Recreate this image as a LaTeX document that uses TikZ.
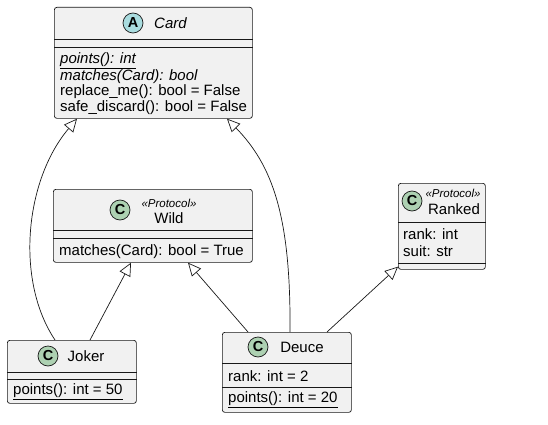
\documentclass[tikz,border=0pt]{standalone}
\usepackage{fontspec}
\setmainfont{Liberation Sans}
\usepackage{xcolor}
\definecolor{boxc}{HTML}{F1F1F1}
\definecolor{linec}{HTML}{181818}
\definecolor{classc}{HTML}{ADD1B2}
\definecolor{abstc}{HTML}{A9DCDF}
\usetikzlibrary{arrows.meta,positioning,calc}
\tikzset{
  >={Triangle[open,length=13pt,width=12pt]},
  classbox/.style={draw=linec,fill=boxc,line width=0.7pt,rounded corners=2.5pt,anchor=north west,inner sep=0pt},
  sep/.style={draw=linec,line width=0.7pt},
  badge/.style={circle,draw=linec,line width=0.7pt,minimum size=20pt,inner sep=0pt,font=\fontsize{14.5}{14.5}\selectfont\bfseries},
  cbadge/.style={badge,fill=classc},
  abadge/.style={badge,fill=abstc},
  cname/.style={font=\fontsize{15}{16}\selectfont,inner sep=0pt},
  stereo/.style={font=\fontsize{11.5}{12}\selectfont\itshape,inner sep=0pt},
  member/.style={font=\fontsize{15}{16}\selectfont,anchor=west,inner sep=0pt},
  ext/.style={->,draw=linec,line width=0.7pt},
}

\begin{document}
\begin{tikzpicture}[x=1pt,y=-1pt]
  \useasboundingbox (0,0) rectangle (548,425);
  % class boxes
  \node[classbox,minimum width=198pt,minimum height=111pt] (card) at (54,7) {};
  \node[classbox,minimum width=199pt,minimum height=73pt] (wild) at (53,189) {};
  \node[classbox,minimum width=87pt,minimum height=86pt] (ranked) at (398,183) {};
  \node[classbox,minimum width=129pt,minimum height=63pt] (joker) at (7,340) {};
  \node[classbox,minimum width=129pt,minimum height=80pt] (deuce) at (222,332) {};
  \foreach \b/\s in {card/32,card/40,wild/41,wild/49,ranked/39,ranked/80,joker/32,joker/39,deuce/31,deuce/55}
    \draw[sep] ([yshift=-\s pt]\b.north west) -- ([yshift=-\s pt]\b.north east);
  % headers
  \node[abadge] (cardb) at (133,23) {A};
  \node[cname,font=\fontsize{15}{16}\selectfont\itshape] (cardn) at (170.5,23) {Card};
  \node[cbadge] (wildb) at (120,210) {C};
  \node[stereo] (wilds) at (169,203) {«Protocol»};
  \node[cname] (wildn) at (169,218) {Wild};
  \node[cbadge] (rankedb) at (412,201) {C};
  \node[stereo] (rankeds) at (453,193) {«Protocol»};
  \node[cname] (rankedn) at (454,209) {Ranked};
  \node[cbadge] (jokerb) at (48,356) {C};
  \node[cname] (jokern) at (86,356) {Joker};
  \node[cbadge] (deuceb) at (258,347) {C};
  \node[cname] (deucen) at (302,347) {Deuce};
  % members
  \node[member] (cardm1) at (60,61) {\underline{\textit{points(): int}}};
  \node[member] (cardm2) at (60,77) {\textit{matches(Card): bool}};
  \node[member] (cardm3) at (60,92) {replace\_me(): bool = False};
  \node[member] (cardm4) at (60,108) {safe\_discard(): bool = False};
  \node[member] (wildm1) at (59,252) {matches(Card): bool = True};
  \node[member] (rankeda1) at (403,234) {rank: int};
  \node[member] (rankeda2) at (403,251) {suit: str};
  \node[member] (jokerm1) at (13,392) {\underline{points(): int = 50}};
  \node[member] (deucea1) at (228,376) {rank: int = 2};
  \node[member] (deucem1) at (228,400) {\underline{points(): int = 20}};
  % inheritance
  \draw[ext] ([xshift=48pt]joker.north west) .. controls (15,280) and (25,180) .. ([xshift=23pt]card.south west);
  \draw[ext] ([xshift=83pt]joker.north west) -- ([xshift=78pt]wild.south west);
  \draw[ext] ([xshift=26pt]deuce.north west) -- ([xshift=135pt]wild.south west);
  \draw[ext] ([xshift=68pt]deuce.north west) .. controls (291,215) and (272,165) .. ([xshift=173pt]card.south west);
  \draw[ext] ([xshift=105pt]deuce.north west) -- ([yshift=3pt]ranked.south west);
\end{tikzpicture}
\end{document}
